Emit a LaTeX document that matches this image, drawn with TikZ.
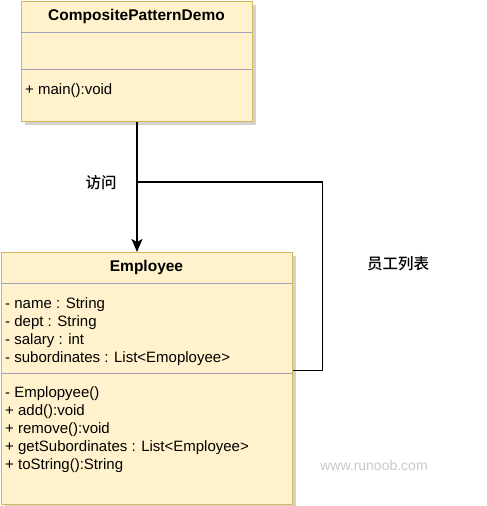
\documentclass[tikz,border=0pt]{standalone}
\usepackage{fontspec}
\setmainfont{Liberation Sans}
\newfontfamily\cjk{Noto Sans CJK SC Medium}
\usetikzlibrary{arrows.meta,shadows}
\definecolor{boxfill}{HTML}{FFF2CC}
\definecolor{boxdraw}{HTML}{D6B656}
\definecolor{divcol}{HTML}{A0A0B8}
\definecolor{markcol}{HTML}{C8C8C8}
\begin{document}
\begin{tikzpicture}[x=1pt,y=-1pt,
  classbox/.style={draw=boxdraw, fill=boxfill, line width=1.3pt, inner sep=0pt, anchor=north west,
    drop shadow={shadow xshift=3pt, shadow yshift=-3pt, fill=black!35, opacity=0.5}},
  divider/.style={draw=divcol, line width=0.8pt},
  title/.style={font=\fontsize{15.5}{17}\selectfont\bfseries, inner sep=0pt, anchor=base},
  member/.style={font=\fontsize{15}{17}\selectfont, anchor=base west, inner sep=0pt},
  conn/.style={draw=black, line width=1.6pt},
  arr/.style={conn, -{Stealth[length=13pt,width=11pt,inset=3pt]}},
  cjklabel/.style={font=\cjk\fontsize{15.5}{17}\selectfont, inner sep=0pt}
]
\useasboundingbox (0,0) rectangle (487,506);
% CompositePatternDemo
\node[classbox, minimum width=231pt, minimum height=120pt] (demo) at (21,1) {};
\draw[divider] (21,32) -- (252,32);
\draw[divider] (21,69) -- (252,69);
\node[title] (demotitle) at (136.5,20) {CompositePatternDemo};
\node[member] (m1) at (25,94) {+ main():void};
% Employee
\node[classbox, minimum width=291pt, minimum height=252pt] (emp) at (1,252) {};
\draw[divider] (1,283) -- (292,283);
\draw[divider] (1,373) -- (292,373);
\node[title] (emptitle) at (146.5,271) {Employee};
\node[member] (a1) at (5,308) {- name : String};
\node[member] (a2) at (5,326) {- dept : String};
\node[member] (a3) at (5,344) {- salary : int};
\node[member] (a4) at (5,362) {- subordinates : List<Emoployee>};
\node[member] (o1) at (5,397) {- Emplopyee()};
\node[member] (o2) at (5,415) {+ add():void};
\node[member] (o3) at (5,433) {+ remove():void};
\node[member] (o4) at (5,451) {+ getSubordinates : List<Employee>};
\node[member] (o5) at (5,469) {+ toString():String};
% connectors
\coordinate (join) at (137,182);
\draw[arr] (demo.south -| join) -- (emp.north -| join);
\draw[conn] ([yshift=8pt]emp.east) -- ++(29,0) |- (join);
% labels
\node[cjklabel] (l1) at (101,183) {访问};
\node[cjklabel] (l2) at (398,263.5) {员工列表};
\node[font=\fontsize{14}{16}\selectfont, text=markcol, inner sep=0pt] (wm) at (374,465) {www.runoob.com};
\end{tikzpicture}
\end{document}
